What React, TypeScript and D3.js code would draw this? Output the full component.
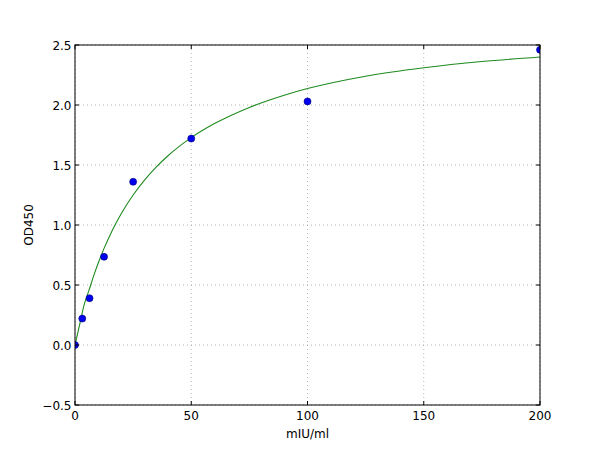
import React from "react";
import * as d3 from "d3";

const pointX = [0, 3.125, 6.25, 12.5, 25, 50, 100, 200];
const pointY = [0.0, 0.22, 0.39, 0.735, 1.36, 1.72, 2.03, 2.46];

const curveX = [0, 2, 4, 6, 8, 10, 12.5, 15, 17.5, 20, 25, 30, 35, 40, 50, 60, 75, 90, 100, 125, 150, 175, 200];
const curveY = [0, 0.17, 0.34, 0.455, 0.574, 0.683, 0.805, 0.913, 1.01, 1.098, 1.25, 1.376, 1.484, 1.577, 1.728, 1.845, 1.98, 2.082, 2.137, 2.24, 2.31, 2.362, 2.4];

const xTicks = [0, 50, 100, 150, 200];
const yTicks = [-0.5, 0.0, 0.5, 1.0, 1.5, 2.0, 2.5];

const xLabel = "mIU/ml";
const yLabel = "OD450";

export default function App() {
  const W = 600, H = 450;
  const L = 75, R = 540, T = 45, B = 405;
  const x = d3.scaleLinear().domain([0, 200]).range([L, R]);
  const y = d3.scaleLinear().domain([-0.5, 2.5]).range([B, T]);
  const line = d3
    .line<number>()
    .x((_, i) => x(curveX[i]))
    .y((d) => y(d))
    .curve(d3.curveMonotoneX);
  const fmtY = (v: number) => (v < 0 ? "\u2212" + Math.abs(v).toFixed(1) : v.toFixed(1));
  const font = "'DejaVu Sans', sans-serif";
  return (
    <svg width={W} height={H} style={{ position: "absolute", left: 0, top: 0, background: "#fff" }}>
      <defs>
        <clipPath id="plotclip">
          <rect x={L} y={T} width={R - L} height={B - T} />
        </clipPath>
      </defs>
      <rect x={0} y={0} width={W} height={H} fill="#fff" />
      {/* grid */}
      <g stroke="#888" strokeWidth={0.6} strokeDasharray="1,3">
        {xTicks.map((t) => (
          <line key={"gx" + t} x1={x(t)} x2={x(t)} y1={T} y2={B} />
        ))}
        {yTicks.map((t) => (
          <line key={"gy" + t} x1={L} x2={R} y1={y(t)} y2={y(t)} />
        ))}
      </g>
      <g clipPath="url(#plotclip)">
        <path d={line(curveY) || ""} fill="none" stroke="#1f8a1f" strokeWidth={1.1} />
        {pointX.map((px, i) => (
          <circle key={"p" + i} cx={x(px)} cy={y(pointY[i])} r={3.5} fill="#0000ee" stroke="#00007a" strokeWidth={0.6} />
        ))}
      </g>
      {/* ticks */}
      <g stroke="#000" strokeWidth={1}>
        {xTicks.map((t) => (
          <g key={"tx" + t}>
            <line x1={x(t)} x2={x(t)} y1={B} y2={B - 4} />
            <line x1={x(t)} x2={x(t)} y1={T} y2={T + 4} />
          </g>
        ))}
        {yTicks.map((t) => (
          <g key={"ty" + t}>
            <line x1={L} x2={L + 4} y1={y(t)} y2={y(t)} />
            <line x1={R} x2={R - 4} y1={y(t)} y2={y(t)} />
          </g>
        ))}
      </g>
      <rect x={L} y={T} width={R - L} height={B - T} fill="none" stroke="#000" strokeWidth={1} />
      <g fontFamily={font} fontSize={12} fill="#000">
        {xTicks.map((t) => (
          <text key={"lx" + t} x={x(t)} y={B + 15} textAnchor="middle">
            {String(t)}
          </text>
        ))}
        {yTicks.map((t) => (
          <text key={"ly" + t} x={L - 3.5} y={y(t) + 4.5} textAnchor="end">
            {fmtY(t)}
          </text>
        ))}
        <text x={(L + R) / 2} y={B + 33} textAnchor="middle">
          {xLabel}
        </text>
        <text transform={`translate(33, ${(T + B) / 2}) rotate(-90)`} textAnchor="middle">
          {yLabel}
        </text>
      </g>
    </svg>
  );
}
